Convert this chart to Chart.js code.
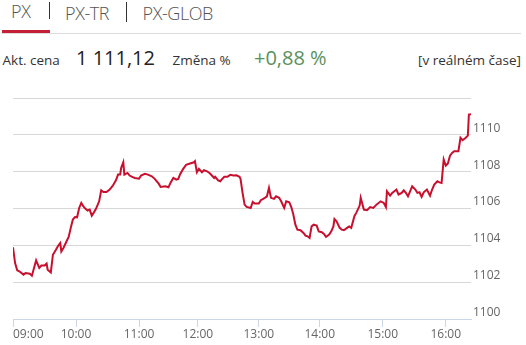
<!DOCTYPE html>
<html><head><meta charset="utf-8">
<script src="https://cdn.jsdelivr.net/npm/chart.js@4"></script>
<style>
html,body{margin:0;padding:0;background:#fff;width:526px;height:345px;overflow:hidden;font-family:"Open Sans",sans-serif;}
.t{position:absolute;white-space:nowrap;}
.tab{font-size:18px;line-height:18px;font-weight:300;color:#555;letter-spacing:-0.4px;}
.sm{font-size:13.5px;line-height:13.5px;color:#333;}
.big{font-size:20px;line-height:20px;}
</style></head><body>
<div class="t tab" style="left:11px;top:1.5px;">PX</div>
<div style="position:absolute;left:49px;top:2px;width:1px;height:17px;background:#333;"></div>
<div class="t tab" style="left:65px;top:4px;">PX-TR</div>
<div style="position:absolute;left:126px;top:2px;width:1px;height:20px;background:#333;"></div>
<div class="t tab" style="left:142.5px;top:4px;">PX-GLOB</div>
<div style="position:absolute;left:2px;top:33px;width:519px;height:1px;background:#dddddd;"></div>
<div style="position:absolute;left:2px;top:30px;width:48px;height:3px;background:#c41f35;"></div>

<div class="t sm" style="left:2.5px;top:53.5px;">Akt. cena</div>
<div class="t big" style="left:76px;top:47.7px;color:#222;">1 111,12</div>
<div class="t sm" style="left:172.5px;top:53.5px;">Změna %</div>
<div class="t big" style="left:254px;top:47.7px;color:#5a915a;">+0,88 %</div>
<div class="t sm" style="right:5px;top:53.5px;">[v reálném čase]</div>

<canvas id="c" width="526" height="265" style="position:absolute;left:0;top:80px;"></canvas>
<script>
// ---- data ----
const times = ["09:00","09:02","09:04","09:06","09:10","09:12","09:16","09:18","09:22","09:25","09:27","09:30","09:32","09:33","09:36","09:38","09:41","09:43","09:45","09:46","09:48","09:51","09:53","09:55","09:57","09:59",
"10:01","10:03","10:05","10:07","10:09","10:11","10:13","10:15","10:17","10:19","10:22","10:24","10:26","10:29","10:32","10:35","10:38","10:40","10:42","10:43","10:45","10:46","10:49","10:51","10:54","10:56",
"11:00","11:02","11:06","11:09","11:13","11:16","11:20","11:22","11:27","11:30","11:32","11:35","11:38","11:40","11:42","11:45","11:48","11:52","11:56","11:57","11:59",
"12:01","12:04","12:06","12:09","12:12","12:16","12:17","12:20","12:22","12:24","12:26","12:29","12:32","12:35","12:38","12:41","12:42","12:44","12:46","12:48","12:52","12:54","12:56",
"13:00","13:02","13:06","13:08","13:10","13:12","13:15","13:17","13:20","13:22","13:25","13:27","13:30","13:32","13:34","13:36","13:38","13:41","13:44","13:46","13:48","13:50","13:52","13:54","13:57","13:59",
"14:02","14:04","14:06","14:09","14:11","14:13","14:14","14:16","14:19","14:21","14:23","14:26","14:28","14:30","14:33","14:35","14:38","14:39","14:42","14:45","14:48","14:51","14:54","14:58",
"15:01","15:03","15:04","15:07","15:09","15:13","15:15","15:18","15:20","15:22","15:24","15:26","15:28","15:31","15:33","15:35","15:37","15:39","15:42","15:45","15:47","15:49","15:52","15:54","15:56","15:58",
"16:00","16:02","16:04","16:06","16:08","16:11","16:12","16:14","16:16","16:19","16:21","16:22","16:24"];
const values = [1103.89,1103.04,1102.64,1102.59,1102.41,1102.50,1102.46,1102.35,1103.18,1102.77,1102.90,1102.90,1103.01,1102.68,1102.53,1103.49,1103.77,1103.98,1104.13,1103.67,1103.86,1104.22,1104.46,1104.95,1105.40,1105.54,
1105.52,1106.03,1106.30,1106.12,1105.98,1105.89,1105.94,1105.61,1105.79,1105.98,1106.39,1106.99,1106.90,1106.90,1107.03,1107.24,1107.53,1107.84,1107.84,1108.21,1108.51,1107.84,1107.93,1107.79,1107.70,1107.66,
1107.62,1107.79,1107.88,1107.84,1107.75,1107.61,1107.35,1107.17,1107.21,1107.15,1107.39,1107.66,1107.57,1107.61,1107.88,1108.15,1108.37,1108.44,1108.51,1108.57,1107.97,
1108.15,1107.97,1108.08,1108.02,1107.90,1107.66,1107.72,1107.53,1107.48,1107.61,1107.72,1107.72,1107.83,1107.79,1107.80,1107.72,1107.61,1106.85,1106.21,1106.09,1106.03,1106.36,1106.27,
1106.27,1106.45,1106.58,1106.66,1107.12,1106.58,1106.52,1106.66,1106.58,1106.39,1106.03,1106.39,1106.34,1106.08,1105.67,1105.12,1104.85,1104.82,1104.67,1104.53,1104.49,1104.40,1105.03,1105.12,1105.07,1104.76,
1104.71,1104.62,1104.46,1104.58,1104.76,1105.03,1105.43,1105.30,1104.95,1104.85,1104.82,1104.95,1105.03,1104.95,1105.58,1105.79,1106.16,1106.58,1105.94,1105.91,1106.08,1106.03,1106.21,1106.39,
1106.30,1106.08,1106.93,1106.70,1106.85,1107.03,1106.76,1106.85,1106.99,1106.85,1106.66,1106.93,1107.21,1107.03,1106.85,1106.88,1106.63,1106.88,1107.03,1106.70,1107.03,1107.30,1107.48,1107.42,1107.39,1108.66,
1108.33,1108.44,1108.87,1109.02,1109.11,1109.11,1109.11,1109.84,1109.71,1109.84,1109.96,1111.10,1111.12];
const hourLabels = ["09:00","10:00","11:00","12:00","13:00","14:00","15:00","16:00"];
const yTicks = [1100,1102,1104,1106,1108,1110,1112];

// ordinal-axis compression: relative width of each trading hour (fewer quotes => narrower)
const hourSlots = [30,30,28,29,29,30,30,30];
const cum = [0]; hourSlots.forEach((s,i)=>cum.push(cum[i]+s));
function pos(t){ const [h,m]=t.split(':').map(Number); const i=h-9; return cum[i]+m/60*hourSlots[i]; }
const pts = times.map((t,i)=>({x:pos(t), y:values[i]}));
const xMax = pos(times[times.length-1]);
const hourPos = hourLabels.map(pos);

new Chart(document.getElementById('c'), {
  type:'line',
  data:{datasets:[{data:pts, borderColor:'#c8102e', borderWidth:2, pointRadius:0, tension:0, fill:false}]},
  options:{
    responsive:false, animation:false, devicePixelRatio:1,
    layout:{padding:{left:13, top:18, right:0, bottom:0}},
    plugins:{legend:{display:false}, tooltip:{enabled:false}},
    scales:{
      x:{type:'linear', min:0, max:xMax,
        afterBuildTicks:s=>{ s.ticks = hourPos.map(v=>({value:v})).concat([{value:xMax}]); },
        afterFit:s=>{ s.height = 26; },
        ticks:{autoSkip:false, maxRotation:0, align:'inner', padding:0, color:'#666',
          font:{family:'"Open Sans"', size:12},
          callback:(v,i)=> i < hourLabels.length ? hourLabels[i] : ''},
        grid:{drawOnChartArea:false, drawTicks:true, tickLength:8,
          color:ctx=> ctx.index >= hourLabels.length ? 'rgba(0,0,0,0)' : '#ccd6eb'},
        border:{display:true, color:'#ccd6eb', width:1}
      },
      y:{position:'right', min:1100, max:1112,
        afterBuildTicks:s=>{ s.ticks = yTicks.map(v=>({value:v})); },
        afterFit:s=>{ s.width = 55; },
        ticks:{padding:2, labelOffset:-6.5, color:'#666', font:{family:'"Open Sans"', size:12},
          callback:v=> v===1112 ? '' : String(v)},
        grid:{drawTicks:false, color:ctx=> (ctx.tick && ctx.tick.value===1100) ? 'rgba(0,0,0,0)' : '#d8d8d8'},
        border:{display:false}
      }
    }
  }
});
</script>
</body></html>
